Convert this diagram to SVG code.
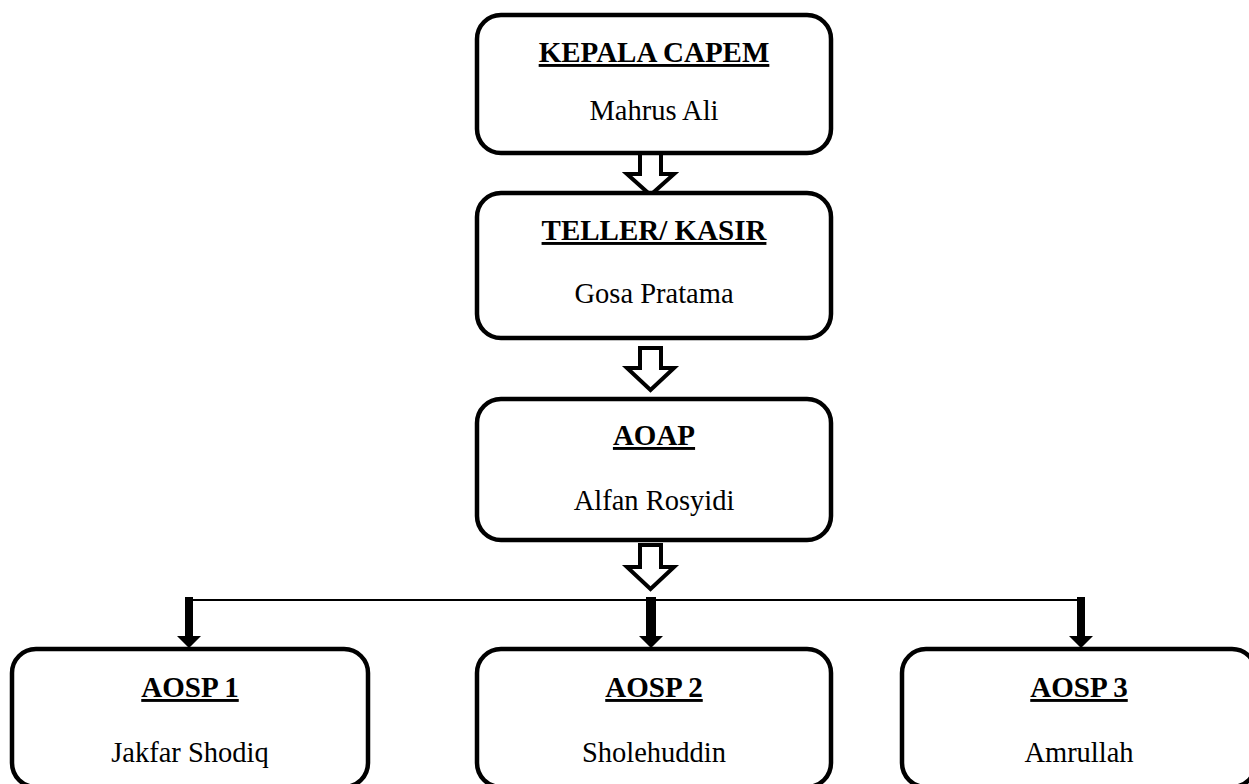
<svg xmlns="http://www.w3.org/2000/svg" width="1249" height="784" viewBox="0 0 1249 784">
  <style>
    .box { fill: #ffffff; stroke: #000000; stroke-width: 4.5; }
    .title { font-family: "Liberation Serif", "Times New Roman", serif; font-size: 29px; font-weight: bold; text-anchor: middle; text-decoration: underline; fill: #000; }
    .name { font-family: "Liberation Serif", "Times New Roman", serif; font-size: 28.5px; text-anchor: middle; fill: #000; }
    .hollow { fill: #ffffff; stroke: #000000; stroke-width: 4; stroke-linejoin: miter; }
    .thin { stroke: #000000; stroke-width: 1.8; fill: none; }
    .solid { fill: #000000; }
  </style>
  <rect width="1249" height="784" fill="#ffffff"/>

  <g id="connectors">
    <polygon class="hollow" points="640,153 661,153 661,174 674,174 650.5,195 627,174 640,174"/>
    <polygon class="hollow" points="640,348 661,348 661,368 674,368 650.5,390 627,368 640,368"/>
    <polygon class="hollow" points="640,545 661,545 661,567 674,567 650.5,589 627,567 640,567"/>
    <line class="thin" x1="189" y1="600" x2="1081" y2="600"/>
    <polygon class="solid" points="185,597 193,597 193,636 201,636 189,648 177,636 185,636"/>
    <polygon class="solid" points="646,597 656,597 656,636 663,636 651,648 639,636 646,636"/>
    <polygon class="solid" points="1077,597 1085,597 1085,636 1093,636 1081,648 1069,636 1077,636"/>
  </g>

  <g id="kepala-capem">
    <rect class="box" x="477" y="15" width="354" height="138" rx="24"/>
    <text class="title" x="654" y="62">KEPALA CAPEM</text>
    <text class="name" x="654" y="120">Mahrus Ali</text>
  </g>
  <g id="teller-kasir">
    <rect class="box" x="477" y="193" width="354" height="145" rx="24"/>
    <text class="title" x="654" y="240">TELLER/ KASIR</text>
    <text class="name" x="654" y="303">Gosa Pratama</text>
  </g>
  <g id="aoap">
    <rect class="box" x="477" y="399" width="354" height="141" rx="24"/>
    <text class="title" x="654" y="445">AOAP</text>
    <text class="name" x="654" y="510">Alfan Rosyidi</text>
  </g>
  <g id="aosp1">
    <rect class="box" x="12" y="649" width="356" height="138" rx="24"/>
    <text class="title" x="190" y="697">AOSP 1</text>
    <text class="name" x="190" y="762">Jakfar Shodiq</text>
  </g>
  <g id="aosp2">
    <rect class="box" x="477" y="649" width="354" height="138" rx="24"/>
    <text class="title" x="654" y="697">AOSP 2</text>
    <text class="name" x="654" y="762">Sholehuddin</text>
  </g>
  <g id="aosp3">
    <rect class="box" x="902" y="649" width="354" height="138" rx="24"/>
    <text class="title" x="1079" y="697">AOSP 3</text>
    <text class="name" x="1079" y="762">Amrullah</text>
  </g>
</svg>
